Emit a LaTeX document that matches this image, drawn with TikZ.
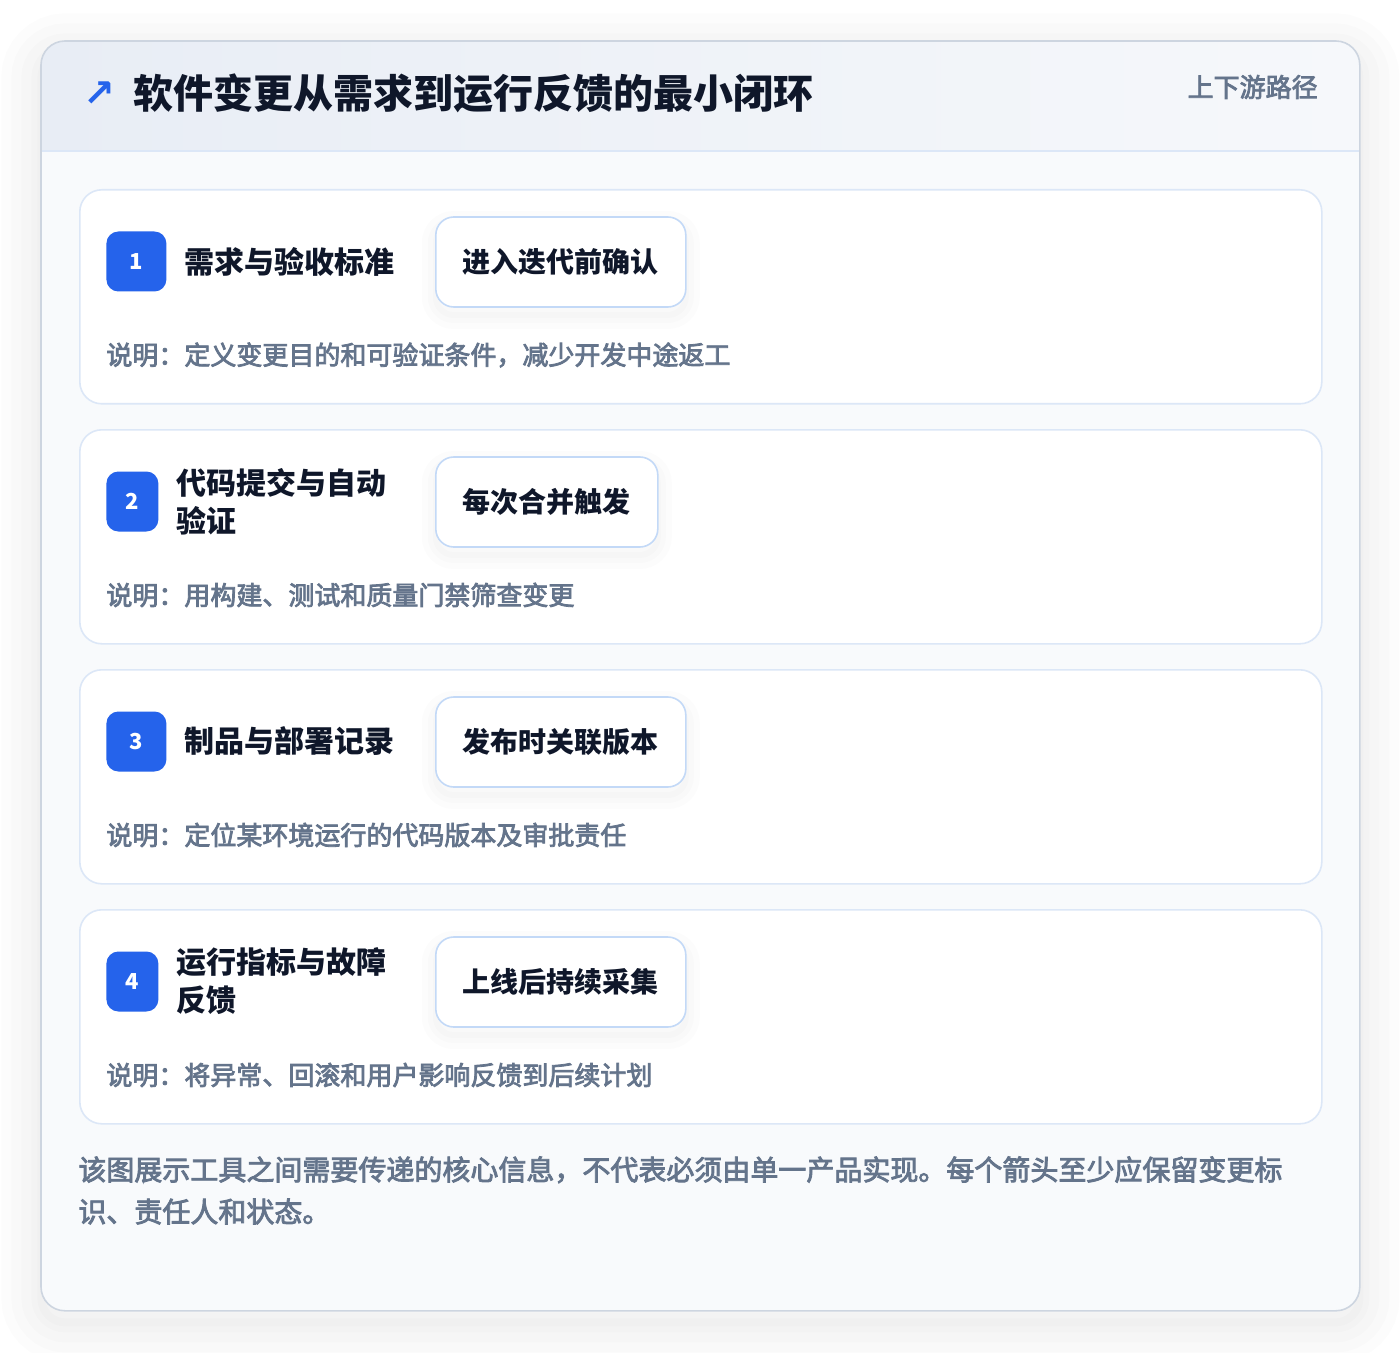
\documentclass[tikz,border=0pt]{standalone}
\usepackage{fontspec}
\setmainfont{Noto Sans CJK SC}
\newfontfamily\symfont{DejaVu Sans}
\newfontfamily\medfont[FakeBold=3]{Noto Sans CJK SC}
\usetikzlibrary{positioning}

\definecolor{ink}{HTML}{0F172A}
\definecolor{muted}{HTML}{64748B}
\definecolor{badgeblue}{HTML}{2563EB}
\definecolor{framegray}{HTML}{CDD5E0}
\definecolor{bodybg}{HTML}{F8FAFC}
\definecolor{headl}{HTML}{E8EDF5}
\definecolor{headr}{HTML}{F6F8FB}
\definecolor{headline}{HTML}{DCE7F7}
\definecolor{stepline}{HTML}{DCE7F7}
\definecolor{pillline}{HTML}{C3D9F7}

\begin{document}
\begin{tikzpicture}[
  x=0.5pt, y=-0.5pt,
  frame/.style={
    % The shape:
    rectangle, rounded corners=12pt,
    % The size:
    minimum width=659pt, minimum height=634.5pt, inner sep=0pt,
    % The filling:
    fill=bodybg,
    % soft shadow, a few widening rings
    preaction={draw=black, opacity=0.012, line width=40pt, transform canvas={yshift=-6pt}},
    preaction={draw=black, opacity=0.012, line width=30pt, transform canvas={yshift=-6pt}},
    preaction={draw=black, opacity=0.012, line width=20pt, transform canvas={yshift=-6pt}},
    preaction={draw=black, opacity=0.012, line width=10pt, transform canvas={yshift=-6pt}},
    preaction={draw=black, opacity=0.012, line width=4pt, transform canvas={yshift=-6pt}}
  },
  stepcard/.style={
    rectangle, rounded corners=11pt,
    minimum width=621pt, minimum height=107pt, inner sep=0pt,
    draw=stepline, line width=0.8pt, fill=white
  },
  badge/.style={
    rectangle, rounded corners=6pt,
    minimum height=30pt, inner sep=0pt,
    fill=badgeblue, text=white,
    font=\bfseries\fontsize{11}{13}\selectfont
  },
  steptitle/.style={
    inner sep=0pt, align=left, text=ink,
    font=\bfseries\fontsize{15}{19}\selectfont
  },
  pill/.style={
    rectangle, rounded corners=9pt,
    minimum height=45pt, inner xsep=13.5pt, anchor=west,
    % soft shadow under the pill
    preaction={draw=black, opacity=0.012, line width=14pt, transform canvas={yshift=-4pt}},
    preaction={draw=black, opacity=0.012, line width=8pt, transform canvas={yshift=-4pt}},
    preaction={draw=black, opacity=0.012, line width=3pt, transform canvas={yshift=-4pt}},
    draw=pillline, line width=0.8pt, fill=white, text=ink,
    font=\bfseries\fontsize{14}{16}\selectfont
  },
  note/.style={
    inner sep=0pt, anchor=west, text=muted,
    font=\medfont\fontsize{13}{15}\selectfont
  },
  ]

  \useasboundingbox [fill=white] (0,0) rectangle (1400,1352);

  % outer card with header band
  \node (frame) [frame, anchor=north west] at (41,41) {};
  \begin{scope}
    \clip [rounded corners=12pt] (frame.north west) rectangle (frame.south east);
    \fill [left color=headl, right color=headr] (41,41) rectangle (1359,151);
  \end{scope}
  \draw [headline, line width=0.8pt] (41,151) -- (1359,151);
  \draw [framegray, line width=0.8pt, rounded corners=12pt]
    (frame.north west) rectangle (frame.south east);

  % header texts
  \node (arrow) [inner sep=0pt, anchor=west, text=badgeblue,
    font=\symfont\bfseries\fontsize{19}{19}\selectfont] at (83,94) {↗};
  \node (heading) [inner sep=0pt, anchor=west, text=ink,
    font=\bfseries\fontsize{20}{24}\selectfont] at (133,93)
    {软件变更从需求到运行反馈的最小闭环};
  \node (tag) [inner sep=0pt, anchor=east, text=muted,
    font=\medfont\fontsize{13}{15}\selectfont] at (1318,87) {上下游路径};

  % Loop to create the four steps
  \foreach \i/\bw/\name/\pilltext/\desc in {
    1/30/{需求与验收标准}/{进入迭代前确认}/{说明：定义变更目的和可验证条件，减少开发中途返工},
    2/26/{代码提交与自动\\验证}/{每次合并触发}/{说明：用构建、测试和质量门禁筛查变更},
    3/30/{制品与部署记录}/{发布时关联版本}/{说明：定位某环境运行的代码版本及审批责任},
    4/26/{运行指标与故障\\反馈}/{上线后持续采集}/{说明：将异常、回滚和用户影响反馈到后续计划}} {
    \pgfmathsetmacro\cardtop{189+240*(\i-1)}
    \node (card\i) [stepcard, anchor=north west] at (79,\cardtop) {};
    \node (num\i) [badge, minimum width=\bw pt, anchor=west] at (106,\cardtop+72.5) {\i};
    \node (title\i) [steptitle, right=8.5pt of num\i] {\name};
    \node (pill\i) [pill] at (435,\cardtop+73) {\pilltext};
    \node (desc\i) [note] at (106,\cardtop+166) {\desc};
  }

  % footer remark
  \node (footer) [inner sep=0pt, anchor=north west, align=left, text=muted,
    font=\medfont\fontsize{14}{21}\selectfont] at (78,1156)
    {该图展示工具之间需要传递的核心信息，不代表必须由单一产品实现。每个箭头至少应保留变更标\\识、责任人和状态。};

\end{tikzpicture}
\end{document}
